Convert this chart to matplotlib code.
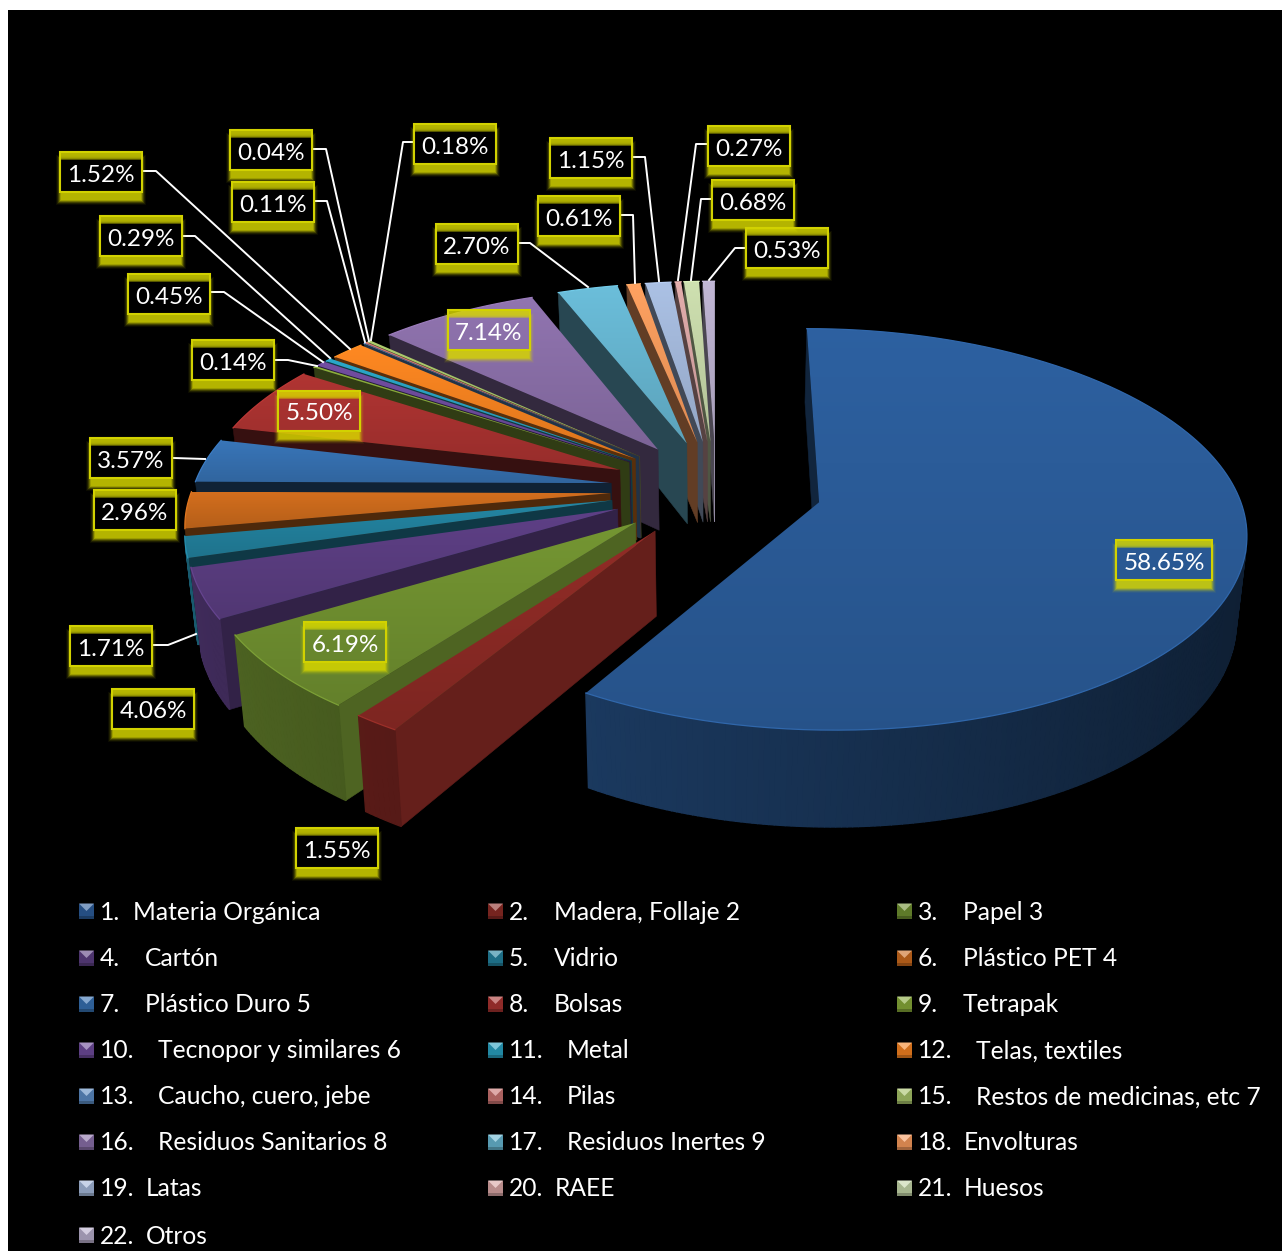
import numpy as np
import matplotlib
matplotlib.use("Agg")
import matplotlib.pyplot as plt
from matplotlib.patches import Polygon, Rectangle, PathPatch
from matplotlib.path import Path

plt.rcParams["font.family"] = ["Lato", "DejaVu Sans"]

# --- Data ---
numbers = ["1.", "2.", "3.", "4.", "5.", "6.", "7.", "8.", "9.", "10.", "11.",
           "12.", "13.", "14.", "15.", "16.", "17.", "18.", "19.", "20.", "21.", "22."]
names = ["Materia Orgánica", "Madera, Follaje 2", "Papel 3", "Cartón", "Vidrio",
         "Plástico PET 4", "Plástico Duro 5", "Bolsas", "Tetrapak",
         "Tecnopor y similares 6", "Metal", "Telas, textiles", "Caucho, cuero, jebe",
         "Pilas", "Restos de medicinas, etc 7", "Residuos Sanitarios 8",
         "Residuos Inertes 9", "Envolturas", "Latas", "RAEE", "Huesos", "Otros"]
values = [58.65, 1.55, 6.19, 4.06, 1.71, 2.96, 3.57, 5.50, 0.14, 0.45, 0.29,
          1.52, 0.04, 0.11, 0.18, 7.14, 2.70, 0.61, 1.15, 0.27, 0.68, 0.53]
colors = ["#2b5c99", "#8b2a25", "#6f8f30", "#5a3d80", "#22809c", "#c9691c",
          "#3670b0", "#a83230", "#86a838", "#6d4a9a", "#28a0c0", "#f58220",
          "#5b8ac2", "#c87270", "#a6c268", "#8a6fa8", "#66b5d0", "#f79a5c",
          "#a3b8da", "#d8a5a4", "#c5d6a8", "#b8aecb"]

# --- Label boxes: left, top, leader line ---
box_x = [1116, 296, 304, 112, 70, 94, 90, 278, 192, 128, 100,
         60, 230, 232, 414, 448, 436, 538, 550, 708, 712, 746]
box_y = [540, 828, 622, 689, 626, 490, 438, 391, 340, 274, 216,
         152, 130, 182, 124, 310, 224, 196, 138, 126, 180, 228]
leaders = {
    4: [(154, 645), (168, 645), (196, 634)],
    6: [(174, 458), (205, 459)],
    8: [(276, 360), (288, 360), (317, 366)],
    9: [(212, 292), (224, 292), (323, 362)],
    10: [(184, 236), (195, 236), (330, 358)],
    11: [(144, 171), (156, 171), (350, 349)],
    12: [(314, 149), (326, 149), (369, 341)],
    13: [(316, 201), (327, 201), (365, 342)],
    14: [(414, 142), (403, 142), (371, 340)],
    16: [(520, 243), (530, 243), (588, 287)],
    17: [(622, 215), (633, 215), (635, 283)],
    18: [(634, 157), (645, 157), (659, 281)],
    19: [(708, 144), (696, 144), (678, 280)],
    20: [(712, 199), (701, 199), (691, 280)],
    21: [(746, 248), (735, 248), (709, 280)],
}

# --- Pie geometry (pixels) ---
xc, yc = 716, 489
radius = 418
explode = 106
depth = 83
squash = 0.463
persp = 0.00032

fig = plt.figure(figsize=(12.82, 12.51), dpi=100, facecolor="white")
ax = fig.add_axes([0, 0, 1, 1])
ax.set_axis_off()
ax.add_patch(Rectangle((8, 10), 1274, 1241, fc="black", ec="none", zorder=0))


def project(x, y, bottom=False):
    s = 1 / (1 + persp * y)
    px = xc + x * s
    py = yc - squash * y * s
    if bottom:
        px = xc + (px - xc) * 0.98
        py = py + depth * s
    return (px, py)


def shade(color, f):
    rgb = np.array(matplotlib.colors.to_rgb(color)) * f
    return tuple(np.clip(rgb, 0, 1))


def area(pts):
    p = np.array(pts)
    return np.sum(p[:, 0] * np.roll(p[:, 1], -1) - np.roll(p[:, 0], -1) * p[:, 1])


def wall_factor(nx):
    if nx > 0:
        return 0.3 + 0.5 * nx
    return 0.3 - 0.1 * nx


# --- Slices, far ones first ---
fractions = np.array(values) / sum(values) * 360
starts = np.concatenate([[0], np.cumsum(fractions)[:-1]])
mids = starts + fractions / 2
order = np.argsort(-np.cos(np.radians(mids)))

z = 10
for i in order:
    a0, a1 = starts[i], starts[i] + fractions[i]
    m = np.radians(mids[i])
    ax0, ay0 = explode * np.sin(m), explode * np.cos(m)
    n = max(2, int(fractions[i] * 1.5))
    angles = np.radians(np.linspace(a0, a1, n))
    wx = ax0 + radius * np.sin(angles)
    wy = ay0 + radius * np.cos(angles)
    top = [project(x, y) for x, y in zip(wx, wy)]
    bot = [project(x, y, True) for x, y in zip(wx, wy)]
    atop = project(ax0, ay0)
    abot = project(ax0, ay0, True)

    # flat side walls
    for quad, ang in [([atop, top[0], bot[0], abot], a0 - 90),
                      ([abot, bot[-1], top[-1], atop], a1 + 90)]:
        if area(quad) < 0:
            c = shade(colors[i], wall_factor(np.sin(np.radians(ang))))
            ax.add_patch(Polygon(quad, fc=c, ec=c, lw=0.4, zorder=z))
            z += 1

    # outer rim
    for k in range(n - 1):
        quad = [top[k], top[k + 1], bot[k + 1], bot[k]]
        if area(quad) < 0:
            nx = np.sin((angles[k] + angles[k + 1]) / 2)
            c = shade(colors[i], 0.52 - 0.19 * nx)
            ax.add_patch(Polygon(quad, fc=c, ec=c, lw=1.0, zorder=z))
    z += 1

    # top face with a soft vertical gradient
    face = Polygon([atop] + top, fc="none", ec="none", zorder=z)
    ax.add_patch(face)
    ys = [p[1] for p in top] + [atop[1]]
    xs = [p[0] for p in top] + [atop[0]]
    t = np.linspace(0, 1, 64)[:, None, None]
    grad = np.array(shade(colors[i], 1.05))[None, None, :] * (1 - t) + np.array(shade(colors[i], 0.9))[None, None, :] * t
    im = ax.imshow(grad, extent=(min(xs), max(xs) + 1, max(ys), min(ys)), aspect="auto",
                   interpolation="bilinear", zorder=z)
    im.set_clip_path(face)
    z += 1
    ax.plot([p[0] for p in top], [p[1] for p in top], color=shade(colors[i], 1.12),
            lw=0.9, zorder=z)
    z += 1

# --- Leader lines ---
for i, pts in leaders.items():
    ax.plot([p[0] for p in pts], [p[1] for p in pts], color="white", lw=1.4, zorder=z,
            solid_joinstyle="round")
z += 1

# --- Labels with a yellow shadow under the box ---
box_w, box_h = 82, 40
for i, v in enumerate(values):
    w = box_w + 14 if v > 10 else box_w
    x0, y0 = box_x[i], box_y[i]
    x1, y1 = x0 + w, y0 + box_h
    for e, alpha in [(4, 0.05), (3, 0.10), (2, 0.18), (1, 0.3), (0, 0.45), (-1, 0.4)]:
        sx0, sy0, sx1, sy1 = x0 - e, y0 + 7 - e, x1 + e, y1 + 9 + e
        outer = [(sx0, sy0), (sx1, sy0), (sx1, sy1), (sx0, sy1), (sx0, sy0)]
        hole = [(x0, y0), (x0, y1), (x1, y1), (x1, y0), (x0, y0)]
        codes = [Path.MOVETO, Path.LINETO, Path.LINETO, Path.LINETO, Path.CLOSEPOLY] * 2
        ax.add_patch(PathPatch(Path(outer + hole, codes), fc="#d8d800", ec="none",
                               alpha=alpha, zorder=z))
    ax.add_patch(Rectangle((x0, y0), w, box_h, fc="none", ec="#d2d200", lw=1.5, zorder=z + 1))
    ax.text((x0 + x1) / 2, (y0 + y1) / 2 + 3, f"{v:.2f}%", color="white", fontsize=17.5,
            ha="center", va="center", zorder=z + 2)

# --- Legend ---
rows = [911, 958, 1004, 1050, 1096, 1142, 1188, 1235]
cols = [79, 488, 897]
for i, (num, name) in enumerate(zip(numbers, names)):
    cx = cols[i % 3]
    cy = rows[i // 3]
    s = 7.5
    mx, my = cx + s, cy
    c = colors[i]
    ax.add_patch(Rectangle((mx - s, my - s), 2 * s, 2 * s, fc=shade(c, 0.85), ec="none", zorder=z))
    ax.add_patch(Polygon([(mx - s, my - s), (mx + s, my - s), (mx, my)],
                         fc=tuple(np.array(shade(c, 1)) * 0.6 + 0.4), ec="none", zorder=z))
    ax.add_patch(Rectangle((mx - s, my + s - 3), 2 * s, 3, fc=shade(c, 0.65), ec="none", zorder=z))
    if i == 0:
        off = 33
    elif i < 9:
        off = 45
    elif i < 17:
        off = 58
    else:
        off = 46
    ax.text(cx + 21, cy + 1, num, color="white", fontsize=17.7, ha="left", va="center", zorder=z)
    ax.text(cx + 21 + off, cy + 1, name, color="white", fontsize=17.7, ha="left", va="center", zorder=z)

ax.set_xlim(0, 1282)
ax.set_ylim(1251, 0)
fig.savefig("out.png", dpi=100, facecolor="white")
